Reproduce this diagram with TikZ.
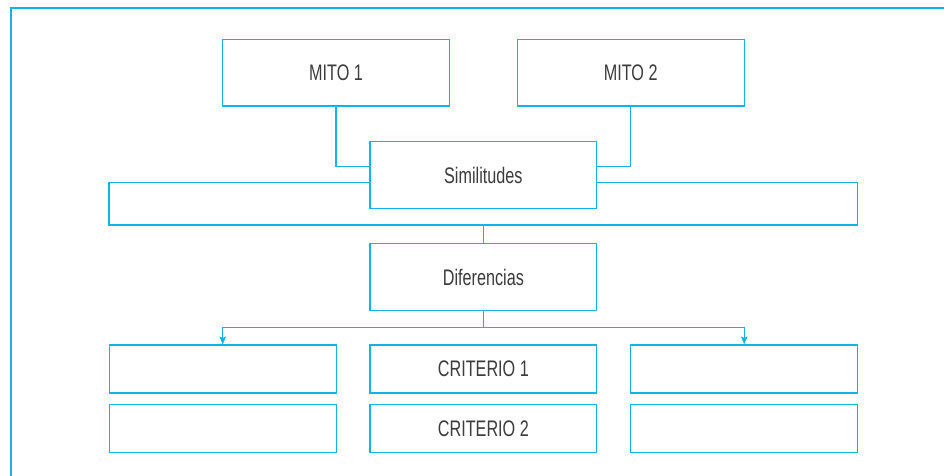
\documentclass[tikz,border=0pt]{standalone}
\usepackage{fontspec}
\setmainfont[FakeStretch=0.72]{Liberation Sans}
\usetikzlibrary{arrows.meta}
\definecolor{linecyan}{RGB}{20,178,234}
\definecolor{txtgray}{RGB}{60,60,60}
\tikzset{
  box/.style={draw=linecyan, line width=1.1pt, fill=white, inner sep=0pt,
    minimum width=226.7pt, text=txtgray, font=\fontsize{22.5}{26}\selectfont},
  tall/.style={box, minimum height=66.7pt},
  short/.style={box, minimum height=48pt},
  conn/.style={draw=linecyan, line width=1.1pt},
  arr/.style={conn, -{Stealth[length=8pt,width=6.5pt,inset=1.5pt]}},
  framel/.style={draw=linecyan, line width=1.4pt}
}
\begin{document}
\begin{tikzpicture}[x=1pt,y=-1pt]
\useasboundingbox (0,0) rectangle (944,476);
% open frame
\coordinate (fa) at (944,8);
\coordinate (fb) at (11,8);
\coordinate (fc) at (11,476);
\draw[framel] (fa) -- (fb) -- (fc);
% nodes
\node[tall] (m1) at (336,72.7) {MITO 1};
\node[tall] (m2) at (630.7,72.7) {MITO 2};
\node[box, minimum width=748.7pt, minimum height=42.3pt] (wide) at (483.35,203.85) {};
\node[tall] (sim) at (483.35,175) {Similitudes};
\node[tall] (dif) at (483.35,277) {Diferencias};
\node[short] (l1) at (222.7,369) {};
\node[short] (c1) at (483.35,369) {CRITERIO 1};
\node[short] (r1) at (744.2,369) {};
\node[short] (l2) at (222.7,428.7) {};
\node[short] (c2) at (483.35,428.7) {CRITERIO 2};
\node[short] (r2) at (744.2,428.7) {};
% connectors
\draw[conn] (m1.south) |- ([yshift=8.3pt]sim.west);
\draw[conn] (m2.south) |- ([yshift=8.3pt]sim.east);
\draw[conn] (wide.south) -- (dif.north);
\coordinate (j) at (483.35,327.7);
\draw[conn] (dif.south) -- (j);
\draw[arr] (j) -| (l1.north);
\draw[arr] (j) -| (r1.north);
\end{tikzpicture}
\end{document}
